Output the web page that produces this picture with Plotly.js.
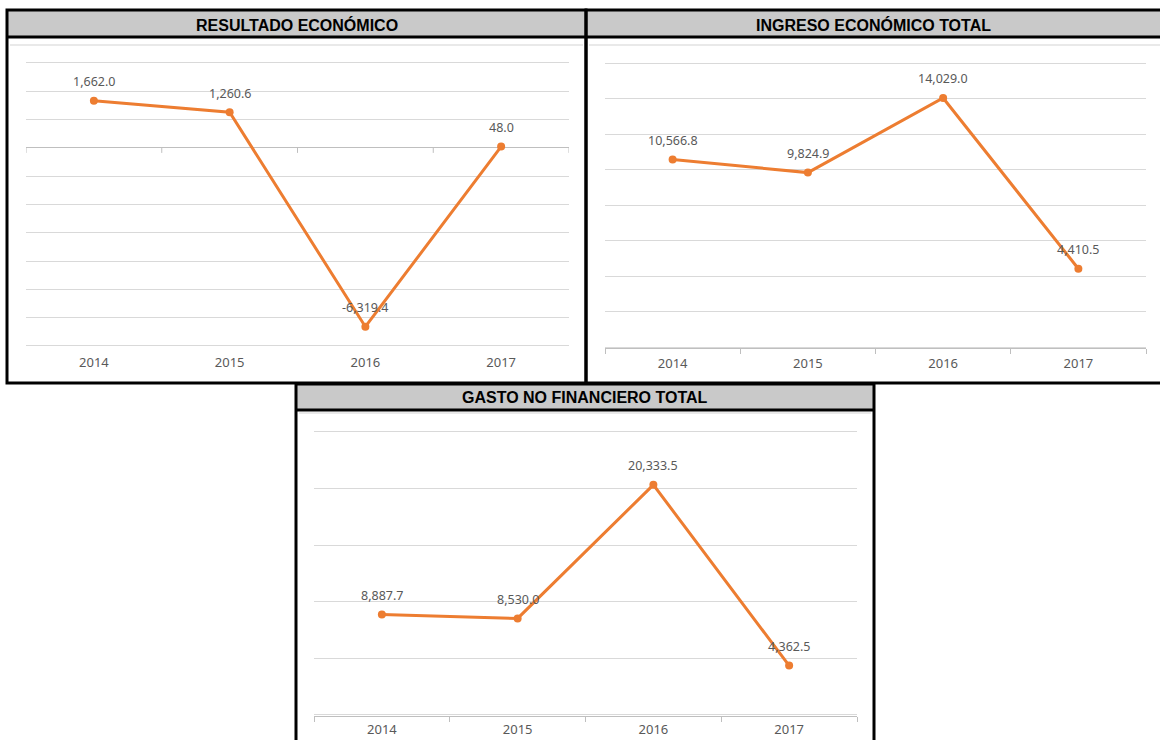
<!DOCTYPE html>
<html>
<head>
<meta charset="utf-8">
<script src="https://cdn.plot.ly/plotly-3.0.1.min.js"></script>
<style>html,body{margin:0;padding:0;background:#fff;}#chart{width:1160px;height:740px;}</style>
</head>
<body>
<div id="chart"></div>
<script>
// ---- data ----
const years = ['2014', '2015', '2016', '2017'];
const resultado = [1662.0, 1260.6, -6319.4, 48.0];
const ingreso = [10566.8, 9824.9, 14029.0, 4410.5];
const gasto = [8887.7, 8530.0, 20333.5, 4362.5];
const titles = ['RESULTADO ECONÓMICO', 'INGRESO ECONÓMICO TOTAL', 'GASTO NO FINANCIERO TOTAL'];

// ---- helpers ----
const W = 1160, H = 740;
const fx = px => px / W;
const fy = py => 1 - py / H;
const fmt = v => v.toLocaleString('en-US', {minimumFractionDigits: 1, maximumFractionDigits: 1});
const ORANGE = '#ED7D31';
const GRID = '#d9d9d9';
const TXT = '#595959';
const FONT = 'Noto Sans, Open Sans, sans-serif';

function trace(y, xa, ya) {
  return {
    type: 'scatter', mode: 'lines+markers', x: years, y: y,
    xaxis: xa, yaxis: ya,
    line: {color: ORANGE, width: 3},
    marker: {color: ORANGE, size: 8},
    hoverinfo: 'skip', showlegend: false
  };
}
const series = [[resultado, 'x', 'y'], [ingreso, 'x2', 'y2'], [gasto, 'x3', 'y3']];
const data = series.map(s => trace(s[0], s[1], s[2]));

// data labels (category index used for x)
const annotations = [];
series.forEach(s => {
  s[0].forEach((v, i) => {
    annotations.push({
      x: i, y: v, xref: s[1], yref: s[2], text: fmt(v),
      showarrow: false, yshift: 19,
      font: {family: FONT, size: 12.5, color: TXT}
    });
  });
});

// panel geometry (pixels)
const panels = [
  {x0: 7, x1: 586, y0: 10, y1: 383, hb: 37, inner: 45},
  {x0: 586, x1: 1163, y0: 10, y1: 383, hb: 37, inner: 45},
  {x0: 296, x1: 874, y0: 384, y1: 745, hb: 410, inner: 413}
];
const shapes = [];
panels.forEach((p, k) => {
  shapes.push({type: 'rect', xref: 'paper', yref: 'paper', x0: fx(p.x0), x1: fx(p.x1), y0: fy(p.y0), y1: fy(p.hb),
    fillcolor: '#c9c9c9', line: {width: 0}, layer: 'below'});
  shapes.push({type: 'line', xref: 'paper', yref: 'paper', x0: fx(p.x0 + 3), x1: fx(p.x1 - 3), y0: fy(p.inner), y1: fy(p.inner),
    line: {color: '#e2e2e2', width: 1.5}});
  shapes.push({type: 'line', xref: 'paper', yref: 'paper', x0: fx(p.x0), x1: fx(p.x1), y0: fy(p.hb), y1: fy(p.hb),
    line: {color: '#000', width: 3}});
  shapes.push({type: 'rect', xref: 'paper', yref: 'paper', x0: fx(p.x0), x1: fx(p.x1), y0: fy(p.y0), y1: fy(p.y1),
    line: {color: '#000', width: 3}});
  annotations.push({
    xref: 'paper', yref: 'paper', x: fx((p.x0 + Math.min(p.x1, W)) / 2), y: fy((p.y0 + p.hb) / 2 + 1),
    text: titles[k], showarrow: false, xanchor: 'center', yanchor: 'middle',
    font: {family: 'Liberation Sans, Arial, sans-serif', size: 16, color: '#000', weight: 'bold'}
  });
});

// tick marks on the zero line of the first chart (category boundaries)
for (let i = 0; i <= years.length; i++) {
  shapes.push({type: 'line', xref: 'x', yref: 'y', ysizemode: 'pixel', yanchor: 0, y0: 0, y1: -5,
    x0: i - 0.5, x1: i - 0.5, line: {color: '#bfbfbf', width: 1}});
}

const tickfont = {family: FONT, size: 13, color: TXT};
function xax(d0, d1, anchor, showline, standoff) {
  return {
    domain: [fx(d0), fx(d1)], anchor: anchor, type: 'category', range: [-0.5, years.length - 0.5],
    showgrid: false, zeroline: false, showline: showline, linecolor: '#bfbfbf', linewidth: 1,
    ticks: 'outside', tickson: 'boundaries', ticklen: 5,
    tickcolor: showline ? '#bfbfbf' : 'rgba(0,0,0,0)', tickfont: tickfont, ticklabelstandoff: standoff,
    fixedrange: true
  };
}
function yax(top, bottom, anchor, range, dtick, zero) {
  const pad = (range[1] - range[0]) * 0.004;
  const ppx = (bottom - top) / (range[1] - range[0]) * pad;
  return {
    domain: [fy(bottom + ppx), fy(top - ppx)], anchor: anchor, range: [range[0] - pad, range[1] + pad],
    dtick: dtick, tick0: 0,
    showticklabels: false, ticks: '', gridcolor: GRID, gridwidth: 1,
    zeroline: zero, zerolinecolor: '#bfbfbf', zerolinewidth: 1, showline: false, fixedrange: true
  };
}

const layout = {
  width: W, height: H, margin: {l: 0, r: 0, t: 0, b: 0},
  paper_bgcolor: '#fff', plot_bgcolor: 'rgba(0,0,0,0)', showlegend: false,
  xaxis: xax(26, 569, 'y', false, 6),
  yaxis: yax(63, 346, 'x', [-7000, 3000], 1000, true),
  xaxis2: xax(605, 1146, 'y2', true, 3),
  yaxis2: yax(63, 347, 'x2', [0, 16000], 2000, false),
  xaxis3: xax(314, 857, 'y3', true, 1),
  yaxis3: yax(432, 715, 'x3', [0, 25000], 5000, false),
  shapes: shapes,
  annotations: annotations
};

Plotly.newPlot('chart', data, layout, {displayModeBar: false, staticPlot: true});
</script>
</body>
</html>
